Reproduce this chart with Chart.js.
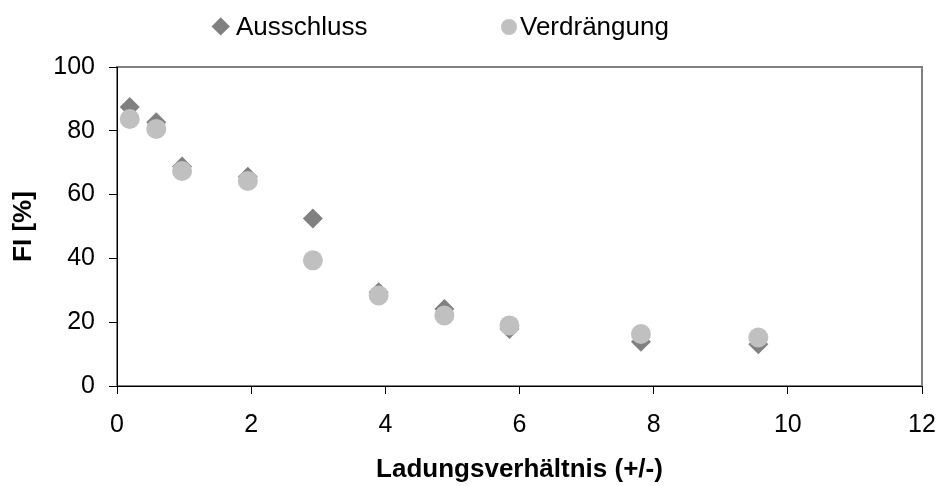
<!DOCTYPE html>
<html>
<head>
<meta charset="utf-8">
<script src="https://cdn.jsdelivr.net/npm/chart.js@4"></script>
<style>
    html, body { margin: 0; padding: 0; background: #fff; }
    #wrap { position: relative; width: 939px; height: 486px; }
    #legend { position: absolute; left: 0; top: 0; width: 939px; height: 56px;
              font-family: "Liberation Sans", Arial, sans-serif; font-size: 26px; color: #000; }
    .item { position: absolute; top: 11px; line-height: 30px; white-space: nowrap; }
    .mark { position: absolute; }
</style>
</head>
<body>
<div id="wrap">
    <canvas id="chart" width="939" height="486"></canvas>
    <div id="legend"></div>
</div>
<script>
    // Ladungsverhaeltnis (+/-)
    var ratio = [0.19, 0.585, 0.97, 1.95, 2.92, 3.90, 4.88, 5.85, 7.81, 9.56];
    // FI [%]
    var ausschluss = [87.5, 82.7, 68.8, 65.6, 52.5, 29.4, 24.1, 17.9, 13.9, 13.1];
    var verdraengung = [83.7, 80.6, 67.4, 64.3, 39.4, 28.4, 22.1, 19.0, 16.3, 15.2];
    var seriesNames = ['Ausschluss', 'Verdrängung'];
    var xTicks = [0, 2, 4, 6, 8, 10, 12];
    var yTicks = [0, 20, 40, 60, 80, 100];

    var FONT = '"Liberation Sans", Arial, sans-serif';

    var toPoints = function (xs, ys) {
        var pts = [];
        for (var i = 0; i < xs.length; i++) {
            pts.push({ x: xs[i], y: ys[i] });
        }
        return pts;
    };

    // grey frame round the plot area, scale borders draw over it
    var plotFrame = {
        id: 'plotFrame',
        beforeDraw: function (chart) {
            var a = chart.chartArea;
            var ctx = chart.ctx;
            ctx.save();
            ctx.strokeStyle = '#808080';
            ctx.lineWidth = 2;
            ctx.strokeRect(a.left, a.top, a.right - a.left, a.bottom - a.top);
            ctx.restore();
        }
    };

    var chart = new Chart(document.getElementById('chart'), {
        type: 'scatter',
        data: {
            datasets: [{
                label: seriesNames[0],
                data: toPoints(ratio, ausschluss),
                pointStyle: 'rectRot',
                pointRadius: 10,
                pointBackgroundColor: '#808080',
                pointBorderWidth: 0,
                order: 1
            }, {
                label: seriesNames[1],
                data: toPoints(ratio, verdraengung),
                pointStyle: 'circle',
                pointRadius: 10,
                pointBackgroundColor: '#C0C0C0',
                pointBorderWidth: 0,
                order: 0
            }]
        },
        options: {
            responsive: false,
            animation: false,
            layout: { padding: { left: 0, top: 67, right: 17, bottom: 0 } },
            plugins: {
                legend: { display: false },
                tooltip: { enabled: false }
            },
            scales: {
                x: {
                    type: 'linear',
                    min: 0,
                    max: 12,
                    afterBuildTicks: function (scale) {
                        scale.ticks = xTicks.map(function (v) { return { value: v }; });
                    },
                    afterFit: function (scale) {
                        scale.height = 100;
                        scale.paddingLeft = 0;
                        scale.paddingRight = 0;
                    },
                    grid: { drawOnChartArea: false, drawTicks: true, tickLength: 8, color: '#000' },
                    border: { color: '#000', width: 1 },
                    ticks: { font: { family: FONT, size: 25 }, color: '#000', padding: 16, maxRotation: 0 },
                    title: {
                        display: true,
                        text: 'Ladungsverhältnis (+/-)',
                        font: { family: FONT, size: 26, weight: 'bold' },
                        color: '#000',
                        padding: { top: 0, bottom: 1 }
                    }
                },
                y: {
                    type: 'linear',
                    min: 0,
                    max: 100,
                    afterBuildTicks: function (scale) {
                        scale.ticks = yTicks.map(function (v) { return { value: v }; });
                    },
                    afterFit: function (scale) {
                        scale.width = 117;
                        scale.paddingTop = 0;
                        scale.paddingBottom = 0;
                    },
                    grid: { drawOnChartArea: false, drawTicks: true, tickLength: 8, color: '#000' },
                    border: { color: '#000', width: 1 },
                    ticks: { font: { family: FONT, size: 25 }, color: '#000', padding: 14 },
                    title: {
                        display: true,
                        text: 'FI [%]',
                        font: { family: FONT, size: 26, weight: 'bold' },
                        color: '#000',
                        padding: { top: 8, bottom: 0 }
                    }
                }
            }
        },
        plugins: [plotFrame]
    });

    // legend as html, markers follow the dataset styles
    var legendPos = [
        { mark: 220.5, text: 236 },
        { mark: 508.5, text: 520 }
    ];
    var legendEl = document.getElementById('legend');
    chart.data.datasets.forEach(function (ds, i) {
        var item = document.createElement('div');
        item.className = 'item';
        item.style.left = legendPos[i].text + 'px';
        item.textContent = ds.label;
        legendEl.appendChild(item);

        var mark = document.createElement('div');
        mark.className = 'mark';
        if (ds.pointStyle === 'rectRot') {
            mark.style.width = '13.4px';
            mark.style.height = '13.4px';
            mark.style.left = (legendPos[i].mark - 6.7) + 'px';
            mark.style.top = (27 - 6.7) + 'px';
            mark.style.transform = 'rotate(45deg)';
        } else {
            mark.style.width = '16px';
            mark.style.height = '16px';
            mark.style.borderRadius = '50%';
            mark.style.left = (legendPos[i].mark - 8) + 'px';
            mark.style.top = (27 - 8) + 'px';
        }
        mark.style.background = ds.pointBackgroundColor;
        legendEl.appendChild(mark);
    });
</script>
</body>
</html>
